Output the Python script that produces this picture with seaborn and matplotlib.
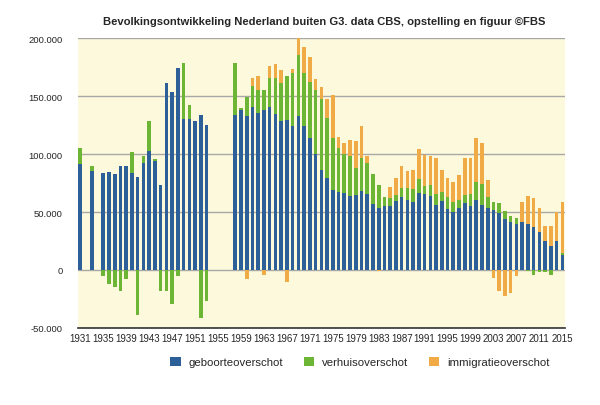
import numpy as np
import pandas as pd
import matplotlib
matplotlib.use('Agg')
import matplotlib.pyplot as plt
import seaborn as sns
from matplotlib.patches import Patch
from matplotlib.ticker import FuncFormatter

# Data (years without data are left out)
years = [1931, 1933] + list(range(1935, 1954)) + list(range(1958, 2016))

geboorte = [91100, 85100,
            83700, 84500, 82500, 89700, 89700, 83900, 79900, 92800, 103100, 94000,
            73600, 161600, 153600, 174500, 130100, 130100, 128400, 133500, 125500,
            133500, 138100, 133200, 141000, 135800, 138100, 141000, 134400, 128900, 129800,
            124600, 132900, 124600, 114300, 100300, 86000, 79400, 68800, 67000, 66200,
            64200, 64700, 68500, 65300, 57000, 53900, 55000, 55300, 59300, 62700,
            60500, 58700, 66200, 65600, 63600, 56200, 59600, 53000, 50100, 53300,
            57600, 55300, 60500, 55900, 53300, 51600, 49600, 43800, 41800, 39800,
            41000, 39800, 37000, 32700, 24600, 20300, 24600, 12900]

verhuis = [14000, 5000,
           -5400, -12000, -14600, -17800, -7400, 18000, -39000, 6000, 25800, 1400,
           -18300, -18300, -29200, -5400, 49000, 12300, 0, -41800, -26900,
           45600, 2000, 16600, 18000, 19200, 17200, 24900, 31500, 32700, 37800,
           45900, 52800, 45900, 48400, 55300, 61500, 51800, 45200, 37900, 33800,
           33800, 23500, 27800, 27200, 25500, 19400, 7700, 6600, 5400, 8400,
           10000, 10900, 12000, 6600, 9500, 9400, 7400, 10300, 8300, 6900,
           7100, 10300, 15100, 18000, 9400, 7100, 8000, 7500, 4600, 4900,
           600, -600, -4600, -1400, -1400, -4300, 0, 1400]

immigratie = [0, 0,
              0, 0, 0, 0, 0, 0, 0, 0, 0, 0,
              0, 0, 0, 0, 0, 0, 0, 0, 0,
              0, 0, -7400, 6900, 12600, -4000, 10300, 11700, 11200, -10300,
              2800, 14300, 22300, 20900, 9100, 10100, 16100, 37000, 10000, 9700,
              14300, 23200, 28300, 6300, 0, -1100, 0, 9400, 14700, 18900,
              14900, 16400, 26100, 26900, 24900, 30700, 19000, 15800, 17800, 21500,
              32400, 31500, 38400, 36100, 14700, -6900, -18300, -22100, -20100, -5200,
              16800, 24100, 24900, 20600, 13800, 18100, 25500, 44100]

labels = ['geboorteoverschot', 'verhuisoverschot', 'immigratieoverschot']
colors = ['#2d5f98', '#6cb535', '#f0ab47']

df = pd.DataFrame({'jaar': years, 'geboorte': geboorte,
                   'verhuis': verhuis, 'immigratie': immigratie})

# positive parts stack upwards, negative parts stack downwards
g_pos = df['verhuis'].clip(lower=0)
g_neg = df['verhuis'].clip(upper=0)
i_pos = df['immigratie'].clip(lower=0)
i_neg = df['immigratie'].clip(upper=0)
df['top_orange'] = df['geboorte'] + g_pos + i_pos
df['top_green'] = df['geboorte'] + g_pos
df['neg_orange'] = g_neg + i_neg
df['neg_green'] = g_neg

sns.set_style('white', {'axes.facecolor': '#fdf9dc'})
plt.rcParams['font.family'] = ['Liberation Sans', 'DejaVu Sans']

fig = plt.figure(figsize=(6, 4.06), dpi=100)
ax = fig.add_axes([0.13, 0.19, 0.812, 0.713])

layers = [('top_orange', colors[2]), ('top_green', colors[1]), ('geboorte', colors[0]),
          ('neg_orange', colors[2]), ('neg_green', colors[1])]
for col, c in layers:
    sns.barplot(data=df, x='jaar', y=col, native_scale=True, color=c, width=0.63,
                saturation=1, errorbar=None, linewidth=0, ax=ax, zorder=3)

ax.set_xlim(1930.6, 2015.5)
ax.set_ylim(-50000, 200000)
ax.set_yticks(np.arange(-50000, 200001, 50000))
ax.yaxis.set_major_formatter(FuncFormatter(lambda v, p: f'{int(v):,}'.replace(',', '.')))
ax.set_xticks(np.arange(1931, 2016, 4))
ax.set_xticklabels([str(y) for y in range(1931, 2016, 4)])
ax.tick_params(axis='x', labelsize=7, length=0, pad=4)
ax.tick_params(axis='y', labelsize=6.8, length=0, pad=11)
ax.set_xlabel('')
ax.set_ylabel('')

ax.grid(axis='y', color='#a8a8a8', linewidth=1, zorder=0)
ax.set_axisbelow(True)
for s in ['top', 'right', 'left']:
    ax.spines[s].set_visible(False)
ax.spines['bottom'].set_color('#333333')
ax.spines['bottom'].set_linewidth(1.2)

fig.text(0.54, 0.945, 'Bevolkingsontwikkeling Nederland buiten G3. data CBS, opstelling en figuur ©FBS',
         ha='center', va='center', fontsize=8.1, fontweight='bold')

handles = [Patch(facecolor=c, edgecolor='none') for c in colors]
fig.legend(handles, labels, loc='center', bbox_to_anchor=(0.6, 1 - 363 / 406), ncol=3,
           frameon=False, fontsize=8.2, handlelength=0.9, handleheight=0.9,
           columnspacing=1.8, handletextpad=0.7)

fig.savefig('out.png', dpi=100)
